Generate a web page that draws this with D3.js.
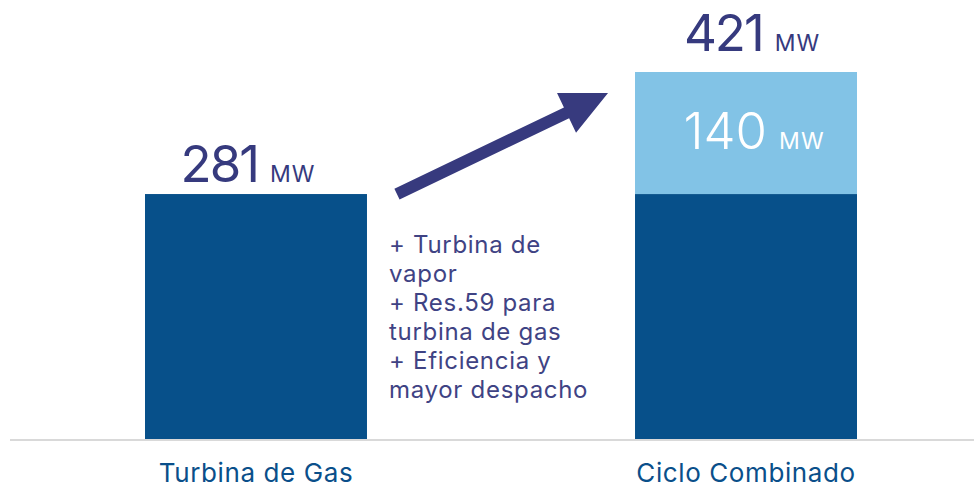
<!DOCTYPE html>
<html>
<head>
<meta charset="utf-8">
<script src="https://cdn.jsdelivr.net/npm/d3@7"></script>
<style>
  body { margin: 0; background: #fff; }
  svg { display: block; font-family: Inter, "Open Sans", sans-serif; }
</style>
</head>
<body>
<div id="chart"></div>
<script>
// ==============================
// Data
// ==============================
var categories = ["Turbina de Gas", "Ciclo Combinado"];
var baseValues = [281, 281];
var addedValues = [0, 140];
var totals = [281, 421];
var unit = "MW";
var notes = ["+ Turbina de", "vapor", "+ Res.59 para", "turbina de gas", "+ Eficiencia y", "mayor despacho"];

// ==============================
// Setup SVG
// ==============================
var svgWidth = 974, svgHeight = 487;
var baseline = 439;
// label placement tweaks (gap above bar, horizontal nudge)
var labelGap = [12, 21];
var labelShift = [-8, 6];

var svg = d3.select("#chart").append("svg")
  .attr("width", svgWidth)
  .attr("height", svgHeight);

var xScale = d3.scaleBand()
  .domain(categories)
  .range([145, 857])
  .paddingInner(0.547)
  .paddingOuter(0);

var yScale = d3.scaleLinear()
  .domain([0, 421])
  .range([baseline, 72]);

// Baseline
svg.append("line")
  .attr("x1", 10).attr("x2", svgWidth)
  .attr("y1", baseline + 1).attr("y2", baseline + 1)
  .attr("stroke", "#d9d9d9")
  .attr("stroke-width", 2);

var rows = categories.map(function(c, i) {
  return {cat: c, base: baseValues[i], add: addedValues[i], total: totals[i],
          gap: labelGap[i], shift: labelShift[i]};
});

// Base bars
svg.selectAll(".base")
  .data(rows).enter().append("rect")
  .attr("class", "base")
  .attr("x", d => xScale(d.cat))
  .attr("width", xScale.bandwidth())
  .attr("y", d => yScale(d.base))
  .attr("height", d => baseline - yScale(d.base))
  .attr("fill", "#07508a");

// Added bars
svg.selectAll(".add")
  .data(rows.filter(d => d.add > 0)).enter().append("rect")
  .attr("class", "add")
  .attr("x", d => xScale(d.cat))
  .attr("width", xScale.bandwidth())
  .attr("y", d => yScale(d.base + d.add))
  .attr("height", d => yScale(d.base) - yScale(d.base + d.add))
  .attr("fill", "#82c3e6");

// Total labels above bars
var totalLabels = svg.selectAll(".total")
  .data(rows).enter().append("text")
  .attr("class", "total")
  .attr("x", d => xScale(d.cat) + xScale.bandwidth() / 2 + d.shift)
  .attr("y", d => yScale(d.total) - d.gap)
  .attr("text-anchor", "middle")
  .attr("fill", "#363a7e");
totalLabels.append("tspan")
  .attr("font-size", 51)
  .attr("letter-spacing", -2)
  .text(d => d.total);
totalLabels.append("tspan")
  .attr("font-size", 23)
  .attr("letter-spacing", 1)
  .attr("dx", 12)
  .text(unit);

// Added value label inside light bar
var addLabels = svg.selectAll(".addlabel")
  .data(rows.filter(d => d.add > 0)).enter().append("text")
  .attr("class", "addlabel")
  .attr("x", d => xScale(d.cat) + xScale.bandwidth() / 2 + 8)
  .attr("y", d => yScale(d.base + d.add / 2) + 16)
  .attr("text-anchor", "middle")
  .attr("fill", "#ffffff");
addLabels.append("tspan")
  .attr("font-size", 51)
  .attr("font-weight", 300)
  .text(d => d.add);
addLabels.append("tspan")
  .attr("font-size", 23)
  .attr("letter-spacing", 1)
  .attr("dx", 12)
  .text(unit);

// Category labels
svg.selectAll(".cat")
  .data(categories).enter().append("text")
  .attr("class", "cat")
  .attr("x", d => xScale(d) + xScale.bandwidth() / 2)
  .attr("y", 482)
  .attr("text-anchor", "middle")
  .attr("font-size", 26)
  .attr("letter-spacing", 0.6)
  .attr("fill", "#0a4f8a")
  .text(d => d);

// ==============================
// Arrow
// ==============================
var x0 = xScale(categories[0]) + xScale.bandwidth() + 30;
var y0 = yScale(totals[0]);
var x1 = xScale(categories[1]) - 27;
var y1 = yScale(totals[1]) + 21;
var ang = Math.atan2(y1 - y0, x1 - x0);
var headLen = 46, headHalf = 22, shaft = 6;
var bx = x1 - headLen * Math.cos(ang), by = y1 - headLen * Math.sin(ang);
var nx = -Math.sin(ang), ny = Math.cos(ang);
var pts = [
  [x0 + nx * shaft, y0 + ny * shaft],
  [bx + nx * shaft, by + ny * shaft],
  [bx + nx * headHalf, by + ny * headHalf],
  [x1, y1],
  [bx - nx * headHalf, by - ny * headHalf],
  [bx - nx * shaft, by - ny * shaft],
  [x0 - nx * shaft, y0 - ny * shaft]
];
svg.append("polygon")
  .attr("points", pts.map(p => p.join(",")).join(" "))
  .attr("fill", "#373a7e");

// Notes text
svg.append("g").selectAll("text")
  .data(notes).enter().append("text")
  .attr("x", 389)
  .attr("y", (d, i) => 253 + i * 29)
  .attr("font-size", 24)
  .attr("letter-spacing", 0.7)
  .attr("fill", "#3f4384")
  .text(d => d);
</script>
</body>
</html>
